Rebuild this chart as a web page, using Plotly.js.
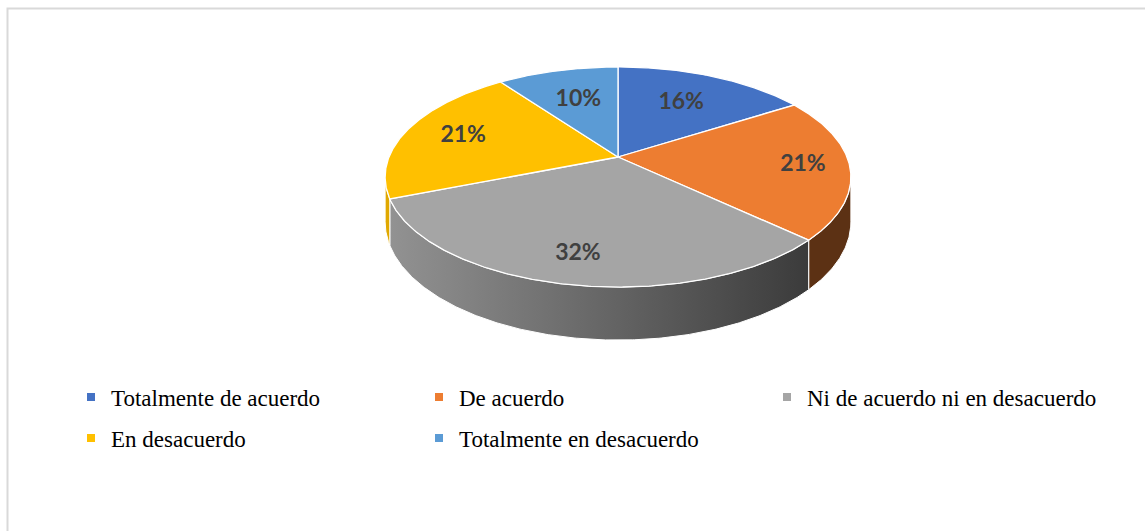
<!DOCTYPE html>
<html>
<head>
<meta charset="utf-8">
<script src="https://cdn.plot.ly/plotly-3.0.1.min.js"></script>
<style>
  html, body { margin: 0; padding: 0; background: #ffffff; }
  #chart { width: 1145px; height: 531px; }
</style>
</head>
<body>
<div id="chart"></div>
<script>
// ---------- data ----------
const categories = [
  "Totalmente de acuerdo",
  "De acuerdo",
  "Ni de acuerdo ni en desacuerdo",
  "En desacuerdo",
  "Totalmente en desacuerdo"
];
const values = [16, 21, 32, 21, 10];

// ---------- styles ----------
const topColors = ["#4472C4", "#ED7D31", "#A5A5A5", "#FFC000", "#5B9BD5"];
const sideColors = ["#2f5597", "#5c3114", null, "#e0a800", "#3f7cb8"];
const labelRadius = [0.63, 0.8, 0.8, 0.73, 0.62];

// ---------- 3D projection (pixel space) ----------
const W = 1145, H = 531;
const CX = 618, CY = 157;      // pie centre on screen
const RA = 229, RB = 106.4;    // horizontal / vertical radii
const K = 0.1818;              // perspective factor
const DEPTH = 43.4;            // thickness of the pie

function proj(theta, f, drop) {
  const u = f * Math.sin(theta), v = f * Math.cos(theta);
  const den = 1 + K * v;
  return [CX + RA * u / den, CY + (-RB * v + drop) / den];
}
function arc(a, b, f, drop) {
  const n = Math.max(2, Math.ceil(Math.abs(b - a) / (Math.PI / 360)));
  const pts = [];
  for (let i = 0; i <= n; i++) pts.push(proj(a + (b - a) * i / n, f, drop));
  return pts;
}

const total = values.reduce((s, v) => s + v, 0);
const starts = [], ends = [];
let acc = 0;
values.forEach(v => { starts.push(acc / total * 2 * Math.PI); acc += v; ends.push(acc / total * 2 * Math.PI); });

const visA = Math.acos(-K), visB = 2 * Math.PI - Math.acos(-K);

const traces = [];

// side walls
values.forEach((v, i) => {
  const a = Math.max(starts[i], visA), b = Math.min(ends[i], visB);
  if (b <= a) return;
  const topArc = arc(a, b, 1, 0);
  const botArc = arc(b, a, 1, DEPTH);
  const pts = topArc.concat(botArc);
  pts.push(pts[0]);
  const tr = {
    type: "scatter", mode: "lines",
    x: pts.map(p => p[0]), y: pts.map(p => p[1]),
    fill: "toself",
    line: { color: "#ffffff", width: 1 },
    hoverinfo: "skip", showlegend: false
  };
  if (sideColors[i]) {
    tr.fillcolor = sideColors[i];
  } else {
    tr.fillcolor = "#777777";
    tr.fillgradient = { type: "horizontal", colorscale: [[0, "#929292"], [0.5, "#676767"], [1, "#3b3b3b"]] };
  }
  traces.push(tr);
});

// top faces
values.forEach((v, i) => {
  const pts = [[CX, CY]].concat(arc(starts[i], ends[i], 1, 0));
  pts.push([CX, CY]);
  traces.push({
    type: "scatter", mode: "lines",
    x: pts.map(p => p[0]), y: pts.map(p => p[1]),
    fill: "toself", fillcolor: topColors[i],
    line: { color: "#ffffff", width: 1.3 },
    hoverinfo: "skip", showlegend: false
  });
});

// percentage labels
const lab = values.map((v, i) => proj((starts[i] + ends[i]) / 2, labelRadius[i], 0));
traces.push({
  type: "scatter", mode: "text",
  x: lab.map(p => p[0]), y: lab.map(p => p[1]),
  text: values.map(v => Math.round(v / total * 100) + "%"),
  textposition: "middle center",
  textfont: { family: "Lato, 'Open Sans', sans-serif", size: 23, color: "#404040", weight: "bold" },
  hoverinfo: "skip", showlegend: false
});

// legend entries
categories.forEach((c, i) => {
  traces.push({
    type: "scatter", mode: "markers",
    x: [null], y: [null], name: c,
    marker: { symbol: "square", size: 8, color: topColors[i] },
    legend: i < 3 ? "legend" : "legend2",
    hoverinfo: "skip"
  });
});

const legendBase = {
  orientation: "h", xanchor: "left", yanchor: "middle",
  entrywidth: 303, entrywidthmode: "pixels",
  font: { family: "'Liberation Serif', 'Times New Roman', serif", size: 23, color: "#000000" },
  bgcolor: "rgba(0,0,0,0)", borderwidth: 0, itemclick: false, itemdoubleclick: false
};

const layout = {
  width: W, height: H,
  margin: { l: 0, r: 0, t: 0, b: 0, pad: 0 },
  paper_bgcolor: "#ffffff", plot_bgcolor: "#ffffff",
  xaxis: { range: [0, W], visible: false, fixedrange: true },
  yaxis: { range: [H, 0], visible: false, fixedrange: true },
  showlegend: true,
  legend: Object.assign({}, legendBase, { x: 71 / W, y: 1 - 397 / H }),
  legend2: Object.assign({}, legendBase, { x: 71 / W, y: 1 - 438 / H }),
  shapes: [{
    type: "rect", xref: "paper", yref: "paper",
    x0: 7.5 / W, x1: 1160 / W, y0: -20 / H, y1: 1 - 8.5 / H,
    line: { color: "#d9d9d9", width: 2 }, fillcolor: "rgba(0,0,0,0)"
  }]
};

Plotly.newPlot("chart", traces, layout, { displayModeBar: false, staticPlot: true });
</script>
</body>
</html>
